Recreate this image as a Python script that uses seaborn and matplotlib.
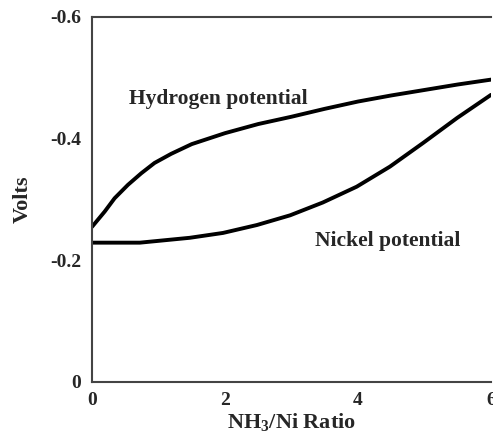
import pandas as pd
import matplotlib
matplotlib.use('Agg')
import matplotlib.pyplot as plt
import seaborn as sns

sns.set_theme(style='white')
plt.rcParams['font.family'] = ['Liberation Serif', 'DejaVu Serif']
plt.rcParams['font.weight'] = 'bold'
plt.rcParams['axes.unicode_minus'] = False
plt.rcParams['mathtext.fontset'] = 'custom'
plt.rcParams['mathtext.rm'] = 'Liberation Serif:bold'
plt.rcParams['mathtext.default'] = 'rm'

# values (volts, negative, axis drawn inverted)
hydrogen_x = [0, 0.19, 0.34, 0.54, 0.74, 0.94, 1.19, 1.5, 2.0, 2.5, 3.0, 3.5, 4.0, 4.5, 5.0, 5.5, 6.0]
hydrogen_v = [-0.255, -0.280, -0.302, -0.324, -0.343, -0.360, -0.375, -0.391, -0.409, -0.424,
              -0.436, -0.449, -0.461, -0.471, -0.480, -0.489, -0.497]

nickel_x = [0, 0.72, 1.47, 1.97, 2.48, 2.98, 3.47, 3.98, 4.48, 4.98, 5.49, 6.0]
nickel_v = [-0.229, -0.229, -0.237, -0.245, -0.258, -0.274, -0.295, -0.321, -0.354, -0.393, -0.434, -0.472]

x_ticks = [0, 2, 4, 6]
y_ticks = [0, -0.2, -0.4, -0.6]
y_tick_labels = ['0', '-0.2', '-0.4', '-0.6']

df = pd.concat([
    pd.DataFrame({'ratio': hydrogen_x, 'volts': hydrogen_v, 'series': 'Hydrogen potential'}),
    pd.DataFrame({'ratio': nickel_x, 'volts': nickel_v, 'series': 'Nickel potential'}),
])

fig = plt.figure(figsize=(4.93, 4.36), dpi=100)
ax = fig.add_axes([0.1866, 0.1239, 0.8094, 0.8372])

sns.lineplot(data=df, x='ratio', y='volts', units='series', estimator=None,
             color='black', linewidth=2.8, ax=ax, legend=False)
for line in ax.lines:
    line.set_solid_capstyle('round')
    line.set_solid_joinstyle('round')

ax.set_xlim(0, 6)
ax.set_ylim(0, -0.6)
ax.set_xticks(x_ticks)
ax.set_xticklabels([str(t) for t in x_ticks])
ax.set_yticks(y_ticks)
ax.set_yticklabels(y_tick_labels)
ax.tick_params(axis='y', length=0, labelsize=14, pad=8)
ax.tick_params(axis='x', length=0, labelsize=14, pad=7)
for lab in ax.get_xticklabels() + ax.get_yticklabels():
    lab.set_fontweight('bold')

for side in ['left', 'bottom', 'top']:
    ax.spines[side].set_color('#444444')
    ax.spines[side].set_linewidth(1.5)
ax.spines['right'].set_visible(False)

ax.set_xlabel('NH$_3$/Ni Ratio', fontsize=16, fontweight='bold', labelpad=2)
ax.set_ylabel('Volts', fontsize=16, fontweight='bold', labelpad=12)

ax.text(0.56, -0.465, 'Hydrogen potential', fontsize=15.5, fontweight='bold', va='center')
ax.text(3.35, -0.232, 'Nickel potential', fontsize=15.5, fontweight='bold', va='center')

fig.savefig('out.png', dpi=100)
